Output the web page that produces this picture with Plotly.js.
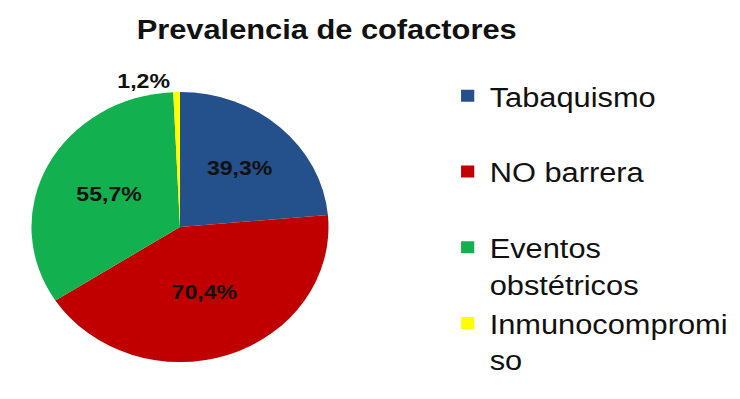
<!DOCTYPE html>
<html><head><meta charset="utf-8">
<script src="https://cdn.plot.ly/plotly-3.0.1.min.js"></script>
<style>
html,body{margin:0;padding:0;background:#fff;overflow:hidden}
#wrap{width:740px;height:399px;overflow:hidden;background:#fff}
#chart{width:673px;height:399px;transform:scaleX(1.1);transform-origin:0 0}
</style></head><body>
<div id="wrap"><div id="chart"></div></div>
<script>
// Data
const categories = ['Tabaquismo', 'NO barrera', 'Eventos obstétricos', 'Inmunocompromiso'];
const legendNames = ['Tabaquismo<br>\u00a0', 'NO barrera<br>\u00a0', 'Eventos<br>obstétricos', 'Inmunocompromi<br>so'];
const values = [39.3, 70.4, 55.7, 1.2];
const colors = ['#24508c', '#c00000', '#12b04f', '#ffff00'];
const chartTitle = 'Prevalencia de cofactores';

const valueLabels = values.map(v => v.toFixed(1).replace('.', ',') + '%');
const FONT = 'Liberation Sans, Arial, sans-serif';

const trace = {
  type: 'pie',
  labels: legendNames,
  values: values,
  text: valueLabels,
  textinfo: 'text',
  textposition: ['inside', 'inside', 'inside', 'outside'],
  insidetextorientation: 'horizontal',
  sort: false,
  direction: 'clockwise',
  rotation: 0,
  hoverinfo: 'none',
  marker: { colors: colors, line: { width: 0 } },
  textfont: { family: FONT, size: 21, color: '#111', weight: 'bold' },
  domain: { x: [0.0425, 0.4437], y: [0.0927, 0.7694] }
};

const layout = {
  width: 673, height: 399,
  margin: { l: 0, r: 0, t: 0, b: 0 },
  paper_bgcolor: '#ffffff',
  plot_bgcolor: '#ffffff',
  title: {
    text: chartTitle,
    font: { family: FONT, size: 28, color: '#111', weight: 'bold' },
    x: 0.4413, xanchor: 'center', xref: 'paper',
    y: 0.928, yanchor: 'middle', yref: 'container'
  },
  showlegend: true,
  legend: {
    x: 0.602, xanchor: 'left', y: 0.822, yanchor: 'top',
    font: { family: FONT, size: 28, color: '#111' },
    valign: 'top',
    bgcolor: 'rgba(0,0,0,0)'
  }
};

Plotly.newPlot('chart', [trace], layout, { staticPlot: true, displayModeBar: false });
</script>
</body></html>
